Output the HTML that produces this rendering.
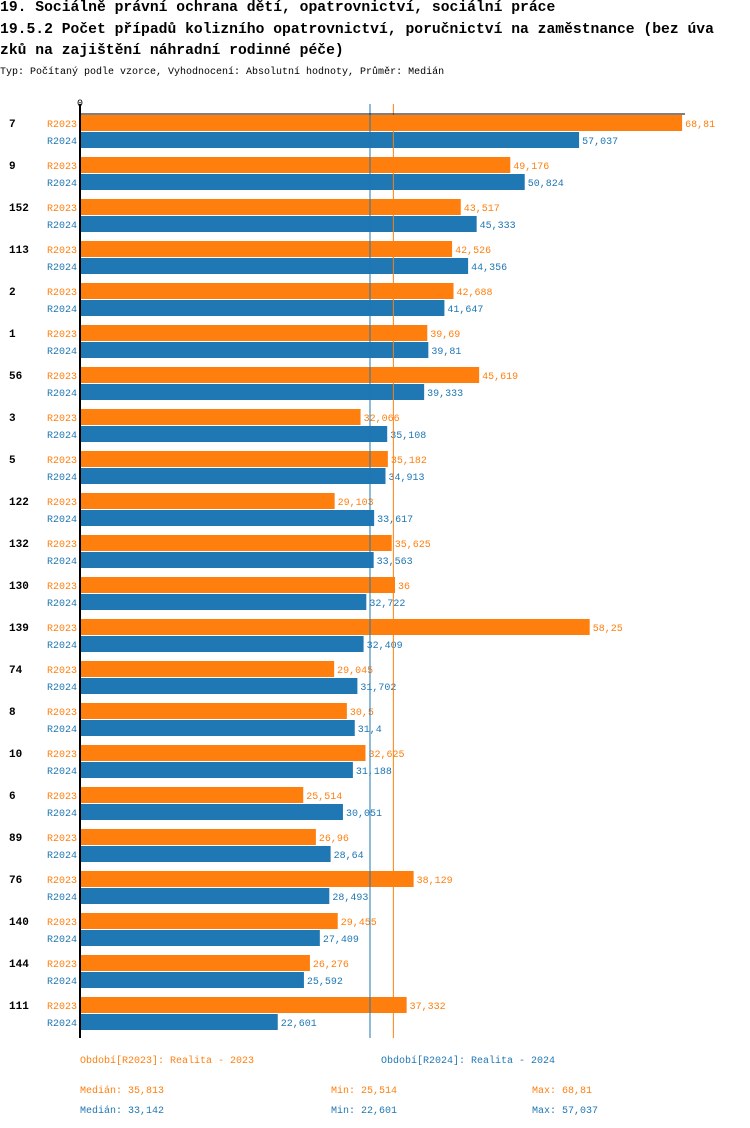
<!DOCTYPE html>
<html><head><meta charset="utf-8">
<style>
body{margin:0;background:#fff;width:750px;height:1128px;overflow:hidden;font-family:"Liberation Mono","DejaVu Sans Mono",monospace;}
.t{position:absolute;left:0;font-weight:bold;font-size:14.7px;white-space:pre;color:#000}
#sub{position:absolute;left:0;top:67px;font-size:10px;color:#000;white-space:pre}
svg{position:absolute;left:0;top:0}
</style></head><body>
<div class="t" style="top:0px">19. Sociálně právní ochrana dětí, opatrovnictví, sociální práce</div>
<div class="t" style="top:22px">19.5.2 Počet případů kolizního opatrovnictví, poručnictví na zaměstnance (bez úva</div>
<div class="t" style="top:43px">zků na zajištění náhradní rodinné péče)</div>
<div id="sub">Typ: Počítaný podle vzorce, Vyhodnocení: Absolutní hodnoty, Průměr: Medián</div>
<svg id="chart" width="750" height="1128" font-family="Liberation Mono, DejaVu Sans Mono, monospace"></svg>
<script>
const categories=["7","9","152","113","2","1","56","3","5","122","132","130","139","74","8","10","6","89","76","140","144","111"];
const values2023=[68.81,49.176,43.517,42.526,42.688,39.69,45.619,32.066,35.182,29.103,35.625,36,58.25,29.045,30.5,32.625,25.514,26.96,38.129,29.455,26.276,37.332];
const values2024=[57.037,50.824,45.333,44.356,41.647,39.81,39.333,35.108,34.913,33.617,33.563,32.722,32.409,31.702,31.4,31.188,30.051,28.64,28.493,27.409,25.592,22.601];
const seriesNames=["R2023","R2024"];
const medians=[35.813,33.142];
const mins=[25.514,22.601];
const maxs=[68.81,57.037];
const O="#ff7f0e",B="#1f77b4";
const svg=document.getElementById('chart');
const NS="http://www.w3.org/2000/svg";
const x0=80,scale=8.75,top0=114,gh=42;
const xs=v=>x0+v*scale;
const fmt=v=>String(v).replace('.',',');
function el(tag,attrs,text){const e=document.createElementNS(NS,tag);for(const k in attrs)e.setAttribute(k,attrs[k]);if(text!==undefined)e.textContent=text;svg.appendChild(e);return e;}
const bottom=top0+categories.length*gh;
categories.forEach((c,i)=>{
  const g=top0+i*gh;
  const t=el('text',{x:9,y:g+13,'font-size':11,'font-weight':'bold',fill:'#000'},c);
  
  
  [values2023[i],values2024[i]].forEach((v,s)=>{
    const col=s?B:O,y=g+1+s*17;
    const l=el('text',{x:77,y:y+12,'font-size':10,fill:col,'text-anchor':'end'},seriesNames[s]);
    
    
    const r=el('rect',{x:x0,y:y,width:xs(v)-x0,height:16,fill:col});
    
    
    const vl=el('text',{x:xs(v)+3,y:y+12,'font-size':10,fill:col},fmt(v));
    
    
  });
});
medians.forEach((m,s)=>{
  const ln=el('line',{x1:xs(m),x2:xs(m),y1:top0-10,y2:bottom,stroke:s?B:O,'stroke-width':1});
  
  
});
const ax=el('line',{x1:x0,x2:x0,y1:top0-10,y2:bottom,stroke:'#000','stroke-width':2});


const tx=el('line',{x1:x0,x2:685,y1:top0,y2:top0,stroke:'#000','stroke-width':1});


const z=el('text',{x:x0,y:106,'font-size':10,'text-anchor':'middle',fill:'#000'},'0');


const lg1=el('text',{x:80,y:1063,'font-size':10,fill:O},'Období[R2023]: Realita - 2023');


const lg2=el('text',{x:381,y:1063,'font-size':10,fill:B},'Období[R2024]: Realita - 2024');


[0,1].forEach(s=>{
  const y=1093+s*20,col=s?B:O;
  const a=el('text',{x:80,y:y,'font-size':10,fill:col},'Medián: '+fmt(medians[s]));
  
  
  const b=el('text',{x:331,y:y,'font-size':10,fill:col},'Min: '+fmt(mins[s]));
  
  
  const c=el('text',{x:532,y:y,'font-size':10,fill:col},'Max: '+fmt(maxs[s]));
  
  
});
</script>
</body></html>
